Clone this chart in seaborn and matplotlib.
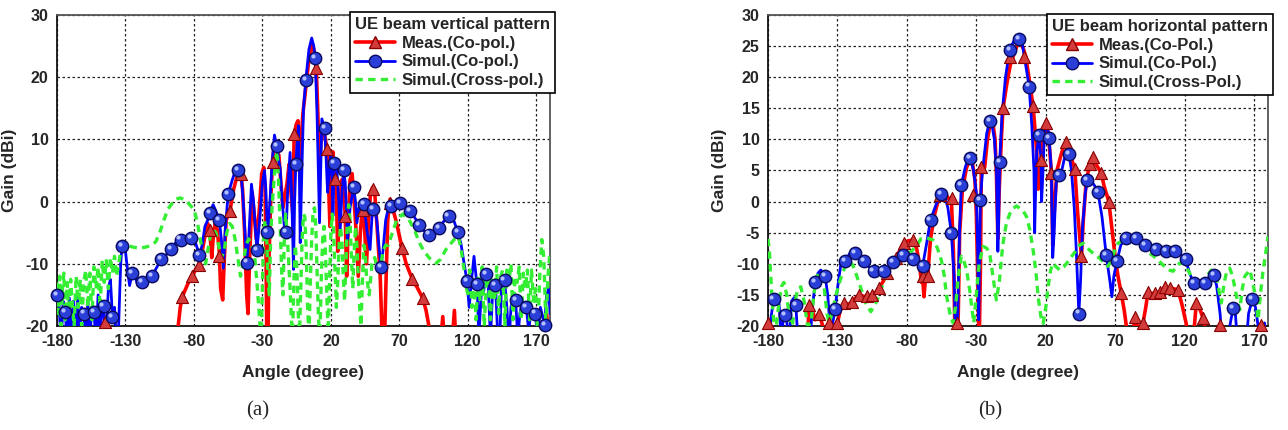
import numpy as np
import matplotlib
matplotlib.use('Agg')
import matplotlib.pyplot as plt
import matplotlib.transforms as mtransforms
from matplotlib.lines import Line2D
from matplotlib.ticker import MultipleLocator
import seaborn as sns

sns.set_style("white")
plt.rcParams['font.family'] = ['Liberation Sans', 'DejaVu Sans']
plt.rcParams['axes.unicode_minus'] = False

TICKS_X = [-180, -130, -80, -30, 20, 70, 120, 170]

# ---------------- (a) vertical pattern ----------------
V_MEAS = [(-180, -26), (-146, -25), (-145, -20.5), (-144, -25), (-93, -25), (-92, -21), (-90, -17),
          (-88.5, -15.3), (-86, -14), (-83, -12.5), (-81.2, -12), (-78.5, -10.8), (-76.3, -10.2),
          (-74, -8), (-71.5, -5), (-70, -3.5), (-68.5, -4.5), (-67, -9), (-66, -6), (-64.5, -3.5),
          (-63, -4.5), (-61.5, -8), (-60.5, -14), (-59, -15.8), (-58, -10), (-56.5, -3), (-53.7, -1.5),
          (-51, 2), (-48, 4.5), (-46, 4.8), (-44.5, 2), (-43, -5), (-41.5, -15), (-40.5, -18),
          (-39.5, -10), (-37.5, 1.5), (-36, -2), (-34.5, -6), (-32.5, -2), (-30.5, 4.5), (-29, 5.5),
          (-28, 2), (-27.3, -10), (-26.8, -22), (-26, -24), (-25.3, -10), (-24, 0), (-22.5, 7),
          (-21, 9.5), (-19.5, 8), (-18, 7.5), (-16.5, 3), (-15, -1), (-13.5, 1), (-12, 3), (-10.5, 6),
          (-9, 1), (-7.8, -2), (-6.8, 10.9), (-5.2, 12.5), (-4, 13), (-3, 6), (-2, 9), (-0.5, 14),
          (1.5, 18), (4, 23), (6, 25.5), (7.5, 24.5), (9.3, 21.5), (10.5, 14), (11.7, 5), (12.8, 10),
          (14.5, 12), (16, 10), (17.1, 8.5), (18.3, 3), (19.3, -4), (20.3, 6), (21.5, 8), (22.7, 3.6),
          (24, 1), (25, -8), (26.2, -0.5), (28, 3.5), (29.5, 1), (30.5, -2.3), (31.5, -12), (32.5, -5),
          (34, 3.5), (35.5, 4.5), (37, 0), (38.5, -5), (40, -12), (41.5, -5), (43, -1), (44.5, -4),
          (46, -10), (47.5, -3), (49, 1.5), (50.5, 2.3), (52, 1.5), (54, -5), (56, -12), (57.5, -22),
          (59, -24), (60, -15), (61.5, -3), (63.2, 0.4), (65, -1), (67.5, -3), (72, -7.5),
          (75, -10), (79.5, -12.5), (83, -13.8), (87, -15.5), (89.5, -17.5), (92, -20.5), (95, -24),
          (100, -23), (101.7, -18.5), (103, -23), (108, -24), (110.2, -17.5), (111.5, -24),
          (120, -25), (174, -25), (176, -22), (177.5, -18), (179, -22), (180, -25)]
V_MEAS_MK = [(-145, -19.3), (-88.5, -15.3), (-81.2, -12), (-76.3, -10.2), (-68.5, -4.5), (-62, -8.8),
             (-53.7, -1.5), (-46, 4.5), (-22, 6.3), (-6.8, 10.9), (9.3, 21.5), (17.1, 8.5), (22.7, 3.6),
             (30.5, -2.3), (43.7, -1.4), (51, 2), (63.4, -0.3), (72, -7.5), (79.5, -12.5), (87, -15.5)]

V_SIM = [(-180, -15), (-178.5, -16.5), (-177, -23), (-175.5, -16), (-174, -17.7), (-172.5, -23),
         (-171, -15.5), (-169.5, -22), (-168, -16), (-166.5, -23), (-165, -15), (-163.5, -21),
         (-162, -17), (-160.5, -18), (-159, -23), (-157.5, -16), (-156, -22), (-154.5, -17),
         (-153, -17.7), (-151.5, -23), (-150, -15), (-148.5, -22), (-147, -16), (-146, -16.8),
         (-144.5, -23), (-142.5, -14), (-141, -12.5), (-139.5, -18.5), (-138, -17), (-136.5, -23),
         (-135, -20), (-133.5, -10), (-132.5, -7.2), (-131.5, -6.5), (-130, -8), (-128.5, -11),
         (-127, -13.5), (-125, -11.5), (-123, -12), (-121, -13.5), (-119, -12.8), (-118, -13),
         (-116, -13.5), (-113, -12.5), (-110.5, -11.9), (-107, -10.5), (-103.7, -9.2), (-100, -8.5),
         (-96.6, -7.6), (-93, -6.5), (-89.8, -6.1), (-86, -6.3), (-82.4, -5.8), (-79, -6.5),
         (-76, -8.6), (-74, -7), (-72, -4), (-70, -3), (-68.3, -1.8), (-66, -0.5), (-64, -1.5),
         (-61.5, -3), (-60, -6), (-58.5, -10.7), (-57, -4), (-55, 1.2), (-52, 3.5), (-49, 5.5),
         (-47.5, 5.1), (-45.5, 4.5), (-44, 0), (-42.5, -6), (-41.5, -9.8), (-40, -6), (-38, 2.8),
         (-36.5, 0), (-34, -7.8), (-32, -3), (-30, 3), (-28.5, 5), (-27.5, 2), (-26.3, -4.9),
         (-25, -2), (-23, 6), (-21.2, 10.7), (-19.5, 8.9), (-18, 6.5), (-17, 5.2), (-16, 1),
         (-14.6, -2.3), (-13.5, -5.5), (-12.7, -4.9), (-11.5, 2), (-9.8, 7.9), (-8.5, 0),
         (-7.3, -10.9), (-6.5, 0), (-5.6, 6), (-4.5, 10), (-3.7, 12.2), (-3, 4), (-2.4, -6.6),
         (-1.2, 5), (0, 15), (1.7, 19.6), (4, 24.5), (6, 26.3), (7.5, 25), (8.5, 23.1), (9.8, 14.9),
         (10.8, 5), (11.7, -3.4), (12.7, 6), (13.4, 13.3), (15.4, 11.8), (16.5, 7), (17.6, 1.5),
         (18.8, 5), (20, 7.9), (21, 3), (21.5, -2.3), (22.4, 6.2), (24, 6.5), (25.5, 1), (26.8, -4.5),
         (28, 1), (29.3, 5), (30.5, 3), (32.2, -6.1), (34, -1), (36.6, 2.3), (38, 0), (39, -3.4),
         (40.5, -1), (42, -0.5), (43.9, -0.4), (45.5, -3), (46.5, -5), (48.6, -7.7), (50, -2.5),
         (50.7, -1.2), (52, -0.8), (53.7, -3.4), (55, -7), (56.6, -10.5), (58, -8), (60, -3),
         (62, -1), (63.9, -0.7), (66, -0.1), (68, 0), (70.7, -0.3), (74, -0.8), (77.8, -1.5),
         (81, -2.5), (84.6, -3.8), (88, -4.7), (92, -5.3), (95, -5.1), (98.8, -4.2), (102, -3.3),
         (105.9, -2.3), (108, -2.3), (110, -3.2), (112.7, -4.9), (115, -6.8), (117, -9.5),
         (119.3, -12.7), (121, -17), (122.5, -13), (124.5, -8.8), (126, -12), (126.8, -13.2),
         (128, -22), (130, -14), (131.5, -14.5), (133.4, -11.7), (135, -14), (136.5, -22), (138, -15),
         (140.2, -13.4), (141.5, -20), (143, -24), (144.5, -14), (146.8, -12.6), (148.5, -17),
         (150, -23), (151.5, -17), (153, -15.5), (154.9, -15.9), (156.5, -22), (158, -18), (160, -16),
         (162.7, -16.9), (164.5, -21), (166, -17.5), (169.3, -18), (171, -22), (173, -17),
         (176.1, -19.8), (177.5, -15), (179, -14), (180, -18)]
V_SIM_MK = [(-180, -15), (-174, -17.7), (-160.5, -18), (-153, -17.7), (-146, -16.8), (-139.5, -18.5),
            (-132.5, -7.2), (-125, -11.5), (-118, -13), (-110.5, -11.9), (-103.7, -9.2), (-96.6, -7.6),
            (-89.8, -6.1), (-82.4, -5.8), (-76, -8.6), (-68.3, -1.8), (-61.5, -3), (-55, 1.2),
            (-47.5, 5.1), (-41.5, -9.8), (-34, -7.8), (-26.3, -4.9), (-19.5, 8.9), (-12.7, -4.9),
            (-5.6, 6), (1.7, 19.6), (8.5, 23.1), (15.4, 11.8), (22.4, 6.2), (29.3, 5), (36.6, 2.3),
            (43.9, -0.4), (50.7, -1.2), (56.6, -10.5), (63.9, -0.7), (70.7, -0.3), (77.8, -1.5),
            (84.6, -3.8), (92, -5.3), (98.8, -4.2), (105.9, -2.3), (112.7, -4.9), (119.3, -12.7),
            (126.8, -13.2), (133.4, -11.7), (140.2, -13.4), (146.8, -12.6), (154.9, -15.9),
            (162.7, -16.9), (169.3, -18), (176.1, -19.8)]

V_CROSS = [(-180, -13), (-179, -18), (-178, -12), (-177, -20), (-176, -14), (-175, -11.5), (-174, -19),
           (-172.5, -13), (-171.5, -18), (-170, -12.5), (-169, -16), (-167.5, -20), (-166, -12),
           (-164.5, -17), (-163, -12.5), (-162, -20), (-160.5, -13), (-159, -11), (-157.5, -17),
           (-156, -11.5), (-154.5, -19), (-153, -10.5), (-151.5, -14), (-150, -10.5), (-148.5, -17),
           (-147, -9.5), (-145.5, -13), (-144, -9.5), (-142.5, -14), (-141, -9), (-139.5, -11.5),
           (-138, -8.8), (-136.5, -12), (-135, -10), (-133, -7.5), (-131, -6.8), (-128, -7),
           (-125, -7.3), (-120, -7.5), (-115, -7.3), (-112, -7.1), (-108, -6.5), (-105, -5), (-102, -3),
           (-99, -1.2), (-96, -0.3), (-93, 0.4), (-90, 0.6), (-87, 0.3), (-84, -0.3), (-81, -1),
           (-79, -2), (-77, -4), (-75, -6.5), (-73, -8.5), (-71.5, -10), (-70, -8), (-68, -5.5),
           (-66, -4.5), (-64, -5), (-62, -7), (-60, -9), (-58, -8), (-56, -5), (-54, -3.5), (-52, -4),
           (-50, -6), (-48, -9), (-46, -12), (-44, -10), (-42, -7), (-40, -6), (-38, -7), (-36, -8),
           (-34, -13), (-32, -19), (-31, -24), (-30, -13), (-29, -5), (-28, -3), (-27, -5), (-26, -12),
           (-25, -15), (-24, -6), (-23, -1), (-22, 2), (-21, 5), (-20, 8), (-19, 7), (-18, 2),
           (-17, -4), (-16, -11), (-15, -15), (-14, -6), (-13, -2), (-12, -5), (-11, -9), (-10, -13),
           (-9, -18), (-8, -22), (-7, -13), (-6, -7), (-5, -10), (-4, -17), (-3, -22), (-2, -14),
           (-1, -6), (0, -2), (1, -2.5), (2, -8), (3, -17), (4, -22), (5, -13), (6, -6), (7, -1.5),
           (8, -1), (9, -4), (10, -12), (11, -19), (12, -22), (13, -12), (14, -6), (15, -4), (16, -8),
           (17, -15), (18, -21), (19, -13), (20, -5), (21, -2), (22, -5), (23, -11), (24, -17),
           (25, -13), (26, -7), (27, -4), (28, -6), (29, -12), (30, -16), (31, -10), (32, -3),
           (33, -0.5), (34, -3), (35, -9), (36, -14), (37, -8), (38, -4), (39, -7), (40, -12),
           (41, -17), (42, -20), (43, -13), (44, -7), (45, -8), (46, -12), (48, -15), (50, -10),
           (52, -9), (54, -11), (56, -11), (58, -8), (60, -7), (62, -7), (64, -5.6), (68, -3),
           (72.4, -2), (77, -2.9), (81, -4.5), (84.6, -6.6), (88, -8), (92, -9.1), (96.8, -9.9),
           (100, -9.3), (104, -7.7), (110, -6.1), (113, -5.6), (115, -7.5), (117.6, -11.5), (119, -14),
           (120, -14.8), (121.5, -11), (123, -17), (124.5, -12), (126, -19), (127.5, -12), (129, -16),
           (130.5, -10.5), (132, -20), (133.5, -13), (135, -11), (136.5, -19), (138, -12), (139.5, -16),
           (141, -10.5), (142.5, -18), (144, -12), (145.5, -11), (147, -20), (148.5, -11), (150, -13),
           (151.5, -10), (153, -19), (154.5, -12), (156, -13), (157.5, -10.5), (159, -19),
           (160.5, -11.5), (162, -14), (163.5, -11), (165, -19), (166.5, -11), (168, -16),
           (169.5, -14), (171, -22), (172.5, -12), (174, -6.1), (175.5, -9), (177, -20), (178.5, -12),
           (180, -8)]

# ---------------- (b) horizontal pattern ----------------
H_MEAS = [(-180, -20), (-178, -24), (-152, -24), (-150.4, -16.6), (-148, -17.5), (-146, -19),
          (-143.2, -18), (-140, -20.5), (-138, -22), (-136, -19.8), (-133, -22), (-130, -19.5),
          (-128, -17.5), (-125.2, -16.3), (-122, -16.5), (-119.2, -16.1), (-117, -15.5), (-114.4, -15),
          (-110, -15.3), (-107, -15.2), (-104.8, -15), (-102, -14.5), (-100, -13.9), (-97, -12.8),
          (-94, -11.5), (-91, -10.2), (-88, -9.1), (-85, -7.8), (-81.9, -6.7), (-79, -6.3),
          (-75.9, -6.2), (-73, -7.5), (-71, -10), (-69.5, -13), (-68.7, -12), (-67.7, -15.3),
          (-66.5, -12), (-65, -12), (-63, -6), (-60, -2), (-57, 0.5), (-55, 1.5), (-52, 1.2),
          (-50, 0.5), (-48, 0.5), (-46.5, -8), (-45.5, -20), (-44, -24), (-43, -18), (-42, -5),
          (-40, 2), (-37, 5.5), (-35, 6.5), (-33, 6.5), (-31, 3.5), (-30, -2), (-29, -12), (-28, -24),
          (-27, -10), (-26.4, 5.6), (-24, 5.5), (-22, 10), (-20, 12.5), (-18, 12.5), (-16.5, 10),
          (-15.5, 4), (-14.5, -6), (-13.5, 2), (-12, 10), (-10.8, 15), (-8, 19), (-5.5, 22),
          (-3.6, 23.3), (0, 25.5), (2, 25.5), (4, 24.5), (5.6, 23.3), (7.5, 20.5), (10.9, 15.3),
          (13.5, 8), (14.5, 2), (15.5, 4), (16.9, 6.7), (18.5, 11), (20.5, 12.6), (22, 10.5),
          (24.1, 4.6), (25, -7), (26, -2), (28, 5), (31, 7.5), (33, 9), (34.9, 9.6), (37, 8),
          (40.9, 5.2), (43, -2), (45.7, -8.8), (47, -3), (49, 3), (51.5, 6), (53.9, 7.2), (55.1, 6.4),
          (57.5, 5.5), (59.9, 4.6), (62, 2.5), (65.4, 0), (68, -5), (70, -9), (72, -12), (74.3, -14.7),
          (76.5, -17.5), (78, -20), (80, -24), (83, -21), (84, -18.5), (86, -20), (88, -21),
          (90, -19.5), (92, -17), (93.6, -14.5), (96, -14.8), (98.4, -14.7), (100, -15), (102, -14.5),
          (104, -14.2), (105.6, -13.7), (107.5, -14.2), (109.2, -13.9), (112, -14), (115.2, -14.2),
          (118, -16.5), (121, -19.5), (123, -22), (125, -24), (127, -20), (128.4, -16.3),
          (130.5, -17), (133.2, -18.7), (135, -20.5), (137, -23), (141, -24), (143, -22),
          (145.2, -19.8), (147, -23), (170, -24), (173, -21), (175, -20), (177, -24), (180, -24)]
H_MEAS_MK = [(-180, -19.5), (-150.4, -16.6), (-143.2, -18), (-136, -19.5), (-130, -19.5),
             (-125.2, -16.3), (-119.2, -16.1), (-114.4, -15), (-109, -15.2), (-104.8, -15), (-100, -13.9),
             (-94, -11.5), (-88, -9.1), (-81.9, -6.7), (-75.9, -6.2), (-68.7, -12), (-64.9, -12),
             (-56.5, 1), (-47.7, 0.5), (-44.2, -19.5), (-32.2, 1.1), (-26.4, 5.6), (-10.8, 15),
             (-6, 23.3), (4.5, 23.3), (10.9, 15.3), (16.9, 6.7), (20.5, 12.6), (24.1, 4.6), (34.9, 9.6),
             (40.9, 5.2), (45.7, -8.8), (51.5, 6), (53.9, 7.2), (59.9, 4.6), (65.4, 0), (74.3, -14.7),
             (84, -18.5), (90, -19.5), (93.6, -14.5), (98.4, -14.7), (102, -14.5), (105.6, -13.7),
             (109.2, -13.9), (115.2, -14.2), (128.4, -16.3), (133.2, -18.7), (145.2, -19.8),
             (175, -19.8)]

H_SIM = [(-180, -24), (-178, -19), (-176, -15.6), (-174, -15), (-172, -16.5), (-170.5, -22),
         (-169, -19), (-167.7, -18.2), (-166.5, -19), (-165, -24), (-163, -16), (-161, -15.4),
         (-160, -16.6), (-158.5, -22), (-157, -25), (-150, -25), (-148.5, -18), (-146, -13),
         (-144, -11.5), (-142, -11), (-138.9, -11.9), (-137, -15), (-135, -21), (-133, -19),
         (-131.7, -17.3), (-130, -14), (-127.5, -10), (-124.5, -9.5), (-121, -8.3), (-118, -8),
         (-117.5, -8.3), (-114, -9), (-110.8, -9.6), (-107, -10.6), (-104, -11.2), (-100, -11.3),
         (-96.8, -11.1), (-93, -10.5), (-89.9, -9.7), (-86, -9), (-83.1, -8.6), (-79, -8.8),
         (-75.9, -9.3), (-72, -9.8), (-68.7, -10.4), (-66, -7), (-63, -2.9), (-59, -0.5),
         (-55.2, 1.2), (-53, 1.2), (-50.5, -1), (-48, -5), (-46, -12), (-45, -22), (-44, -25),
         (-43, -14), (-42, -4), (-40.8, 2.7), (-38, 5.5), (-36, 6.8), (-34.3, 7), (-32, 5),
         (-30, 1.5), (-29, -8), (-28.3, -19), (-27.6, -8), (-27.1, 0.3), (-25.5, 5), (-22.5, 11),
         (-20.4, 12.9), (-19, 12.7), (-17, 10), (-15.5, 5), (-14.5, -8), (-14, -4), (-13.2, 6.4),
         (-11.5, 14), (-9, 20), (-6, 24.4), (-3, 25.8), (0.8, 26.2), (3, 25.5), (5.5, 22), (8, 18.5),
         (10, 12), (11.5, 5), (12, -5), (12.5, 0), (13.5, 8), (15, 10.7), (16.5, 7), (17, 0),
         (18, 5), (19, 11), (20.5, 13), (22.4, 10.2), (24, 5), (25, -9), (26, -5), (27.5, 3),
         (29.6, 4.3), (31.5, 5), (34, 7.5), (36.6, 7.7), (38.5, 5), (40.5, -1), (42, -8),
         (43.8, -18), (45, -13), (46.5, -4), (48.5, 1.5), (50, 3.4), (52, 3.6), (55, 2.6),
         (57.5, 1.6), (60.5, -2.5), (63.5, -8.6), (66, -12.5), (67.6, -15.3), (69, -12),
         (71.2, -9.6), (74, -7), (77.9, -5.8), (81, -5.5), (85.1, -5.9), (88, -6.4), (91.2, -7),
         (95, -7.4), (99.1, -7.7), (103, -7.8), (106.3, -7.9), (110, -7.9), (113.3, -8), (117, -8.5),
         (120.7, -9.3), (123.5, -11.5), (126.5, -13.1), (130, -13.6), (134.4, -13.1), (138, -12),
         (140.9, -11.8), (143, -13.5), (145.5, -18), (147.5, -24), (151, -25), (152.5, -20),
         (154.9, -17.1), (156.5, -18), (158.5, -24), (164, -24), (166, -18), (168.8, -15.7),
         (171, -17), (173.5, -21), (175.5, -24), (177.5, -19.5), (180, -24)]
H_SIM_MK = [(-176, -15.6), (-167.7, -18.2), (-160, -16.6), (-146, -13), (-138.9, -11.9),
            (-131.7, -17.3), (-124.5, -9.5), (-117.5, -8.3), (-110.8, -9.6), (-104, -11.2),
            (-96.8, -11.1), (-89.9, -9.7), (-83.1, -8.6), (-75.9, -9.3), (-68.7, -10.4), (-63, -2.9),
            (-55.2, 1.2), (-48, -5), (-40.8, 2.7), (-34.3, 7), (-27.1, 0.3), (-20.4, 12.9),
            (-13.2, 6.4), (-6, 24.4), (0.8, 26.2), (8, 18.5), (15, 10.7), (22.4, 10.2), (29.6, 4.3),
            (36.6, 7.7), (43.8, -18), (50, 3.4), (57.5, 1.6), (63.5, -8.6), (71.2, -9.6), (77.9, -5.8),
            (85.1, -5.9), (91.2, -7), (99.1, -7.7), (106.3, -7.9), (113.3, -8), (120.7, -9.3),
            (126.5, -13.1), (134.4, -13.1), (140.9, -11.8), (154.9, -17.1), (168.8, -15.7)]

H_CROSS = [(-180, -6), (-179, -8), (-177.5, -14), (-176, -19), (-174.5, -21), (-172, -16),
           (-170, -13.5), (-168.5, -13), (-166.5, -15), (-164.5, -19), (-163, -21), (-160.5, -16),
           (-158.5, -14), (-156.4, -13.7), (-154, -16), (-151.5, -20), (-149, -19.5), (-147, -15),
           (-145, -12), (-142, -11.5), (-139.5, -14), (-137.5, -18), (-136, -19.5), (-134, -18),
           (-131, -15), (-128.5, -13), (-126.4, -11.5), (-123.5, -10), (-121.6, -9.6), (-119, -10.2),
           (-116.8, -11.5), (-113, -14), (-109.6, -16.3), (-106, -17.7), (-102.4, -16.3), (-99, -14.5),
           (-96.4, -12.6), (-93, -11), (-90.3, -9.9), (-86, -9.2), (-83.1, -8.8), (-79, -8.3),
           (-75.9, -7.8), (-72, -6.8), (-70, -6), (-66, -5.8), (-61, -6.2), (-58, -7.5), (-55.2, -9.4),
           (-53, -12), (-51.6, -15), (-49, -18), (-46.8, -19.5), (-45, -17), (-43, -12), (-40.8, -8.8),
           (-39, -9.5), (-37, -11), (-34.8, -14.2), (-33, -17.5), (-31.9, -19.5), (-30, -15),
           (-28, -10), (-25.2, -7.2), (-22.5, -7.5), (-20.4, -8.3), (-18, -12), (-15.6, -15.8),
           (-13.5, -13), (-11, -7), (-8.4, -3.5), (-6, -2), (-3.6, -1.1), (-1, -0.7), (1.3, -1.1),
           (4, -1.6), (6.1, -2.4), (8.5, -4.5), (10.9, -7.8), (13, -11.5), (14.5, -15.3), (16.5, -18.5),
           (18.1, -19.6), (20, -17), (21.7, -13.7), (23.5, -11), (25.3, -9.9), (27.5, -10.5),
           (30.1, -11), (33, -10.5), (36.1, -9.6), (39, -8.7), (42.1, -7.8), (44.3, -7), (46.9, -6.7),
           (49, -7.2), (51.5, -7.8), (55, -8.5), (58.7, -9.1), (62, -9.8), (64.7, -10.4), (66.5, -9.8),
           (68.3, -8.8), (70, -7.5), (72, -6.7), (75, -6.3), (77.9, -6.2), (81, -6.3), (85.1, -6.7),
           (89, -7.2), (92.4, -7.8), (96, -8.5), (99.6, -9.1), (103, -9.9), (106.8, -10.7), (109, -11),
           (111.6, -11.2), (114, -10.5), (116.4, -9.9), (119, -9.9), (121, -10.5), (123.6, -11.5),
           (126, -12.7), (128.4, -13.7), (131, -13.5), (134, -12.8), (136.5, -11.8), (139.2, -11),
           (142.8, -12), (144.5, -14), (146.4, -16.3), (148.5, -13), (150, -11.5), (152.5, -10.7),
           (154.5, -12), (156, -13.7), (158, -16), (159.7, -17.4), (161.5, -14), (163.3, -12),
           (166.9, -11), (168.5, -12.5), (170.5, -14.7), (172.9, -19), (174.5, -15), (176.5, -11),
           (178.5, -8), (180, -5.6)]

RED = '#ff0000'
BLUE = '#0000ff'
GREEN = '#33ee33'
TRI_FACE = '#d43b3b'
TRI_EDGE = '#8a0000'
BALL_FACE = '#2a3fd8'
BALL_EDGE = '#0a0a60'


def draw_panel(ax, meas, meas_mk, sim, sim_mk, cross, ystep, yminor):
    m = np.array(meas).T
    s = np.array(sim).T
    c = np.array(cross).T
    mk1 = np.array(meas_mk).T
    mk2 = np.array(sim_mk).T
    sns.lineplot(x=m[0], y=m[1], ax=ax, color=RED, lw=2.6, sort=False, estimator=None, zorder=3)
    sns.lineplot(x=s[0], y=s[1], ax=ax, color=BLUE, lw=2.0, sort=False, estimator=None, zorder=4)
    sns.lineplot(x=c[0], y=c[1], ax=ax, color=GREEN, lw=2.4, sort=False, estimator=None,
                 zorder=5).lines[-1].set_dashes((2.2, 1.6))
    sns.scatterplot(x=mk1[0], y=mk1[1], ax=ax, marker='^', s=75, color=TRI_FACE,
                    edgecolor=TRI_EDGE, linewidth=0.8, zorder=6, clip_on=False)
    sns.scatterplot(x=mk2[0], y=mk2[1], ax=ax, marker='o', s=80, color=BALL_FACE,
                    edgecolor=BALL_EDGE, linewidth=1.0, zorder=7, clip_on=False)
    # small shine on the balls
    shift = mtransforms.ScaledTranslation(-1.5 / 72, 1.5 / 72, ax.figure.dpi_scale_trans)
    hl = ax.scatter(mk2[0], mk2[1], marker='o', s=9, color='#b3c0ff', linewidths=0,
                    zorder=8, clip_on=False)
    hl.set_offset_transform(ax.transData + shift)

    ax.set_xlim(-180, 180)
    ax.set_ylim(-20, 30)
    ax.set_xticks(TICKS_X)
    ax.yaxis.set_major_locator(MultipleLocator(ystep))
    ax.yaxis.set_minor_locator(MultipleLocator(yminor))
    ax.xaxis.set_minor_locator(MultipleLocator(10))
    ax.grid(True, which='major', color='#222222', linestyle=(0, (2, 2)), lw=0.9)
    ax.tick_params(which='both', direction='in', labelsize=11.5, top=False, right=False)
    ax.tick_params(which='major', length=5, width=1, pad=6)
    ax.tick_params(which='minor', length=3.5, width=1)
    for lab in ax.get_xticklabels() + ax.get_yticklabels():
        lab.set_fontweight('bold')
    for sp in ax.spines.values():
        sp.set_color('#111111')
        sp.set_linewidth(1.3)
    ax.spines['top'].set_color('#555555')
    ax.spines['right'].set_color('#555555')
    ax.set_xlabel('Angle (degree)', fontsize=12.5, fontweight='bold')
    ax.set_ylabel('Gain (dBi)', fontsize=12.5, fontweight='bold')
    ax.yaxis.set_label_coords(-0.082, 0.5)
    ax.xaxis.set_label_coords(0.5, -0.125)

    handles = [
        Line2D([], [], color=RED, lw=2.6, marker='^', markersize=9, markerfacecolor=TRI_FACE,
               markeredgecolor=TRI_EDGE),
        Line2D([], [], color=BLUE, lw=2.0, marker='o', markersize=9, markerfacecolor=BALL_FACE,
               markeredgecolor=BALL_EDGE),
        Line2D([], [], color=GREEN, lw=2.4, dashes=(2.2, 1.6)),
    ]
    return handles


fig = plt.figure(figsize=(12.88, 4.3), dpi=100)
ax1 = fig.add_axes([57 / 1288, 1 - 326 / 430, 493 / 1288, 311 / 430])
ax2 = fig.add_axes([768 / 1288, 1 - 326 / 430, 500 / 1288, 311 / 430])

h1 = draw_panel(ax1, V_MEAS, V_MEAS_MK, V_SIM, V_SIM_MK, V_CROSS, 10, 2)
h2 = draw_panel(ax2, H_MEAS, H_MEAS_MK, H_SIM, H_SIM_MK, H_CROSS, 5, 1)

leg_kw = dict(loc='upper right', prop={'weight': 'bold', 'size': 12},
              title_fontproperties={'weight': 'bold', 'size': 12}, alignment='left',
              fancybox=False, edgecolor='black', framealpha=1, handlelength=2.4,
              borderpad=0.3, labelspacing=0.22, handletextpad=0.4, borderaxespad=0)
leg1 = fig.legend(h1, ['Meas.(Co-pol.)', 'Simul.(Co-pol.)', 'Simul.(Cross-pol.)'],
                  title='UE beam vertical pattern', bbox_to_anchor=(555 / 1288, 1 - 12 / 430), **leg_kw)
leg1.get_frame().set_linewidth(1.2)
leg2 = fig.legend(h2, ['Meas.(Co-Pol.)', 'Simul.(Co-Pol.)', 'Simul.(Cross-Pol.)'],
                  title='UE beam horizontal pattern', bbox_to_anchor=(1273 / 1288, 1 - 14 / 430), **leg_kw)
leg2.get_frame().set_linewidth(1.2)

fig.text(258 / 1288, 0.045, '(a)', ha='center', va='center', fontsize=15,
         family=['Liberation Serif', 'DejaVu Serif'])
fig.text(990 / 1288, 0.045, '(b)', ha='center', va='center', fontsize=15,
         family=['Liberation Serif', 'DejaVu Serif'])

fig.savefig('out.png', dpi=100, facecolor='white')
